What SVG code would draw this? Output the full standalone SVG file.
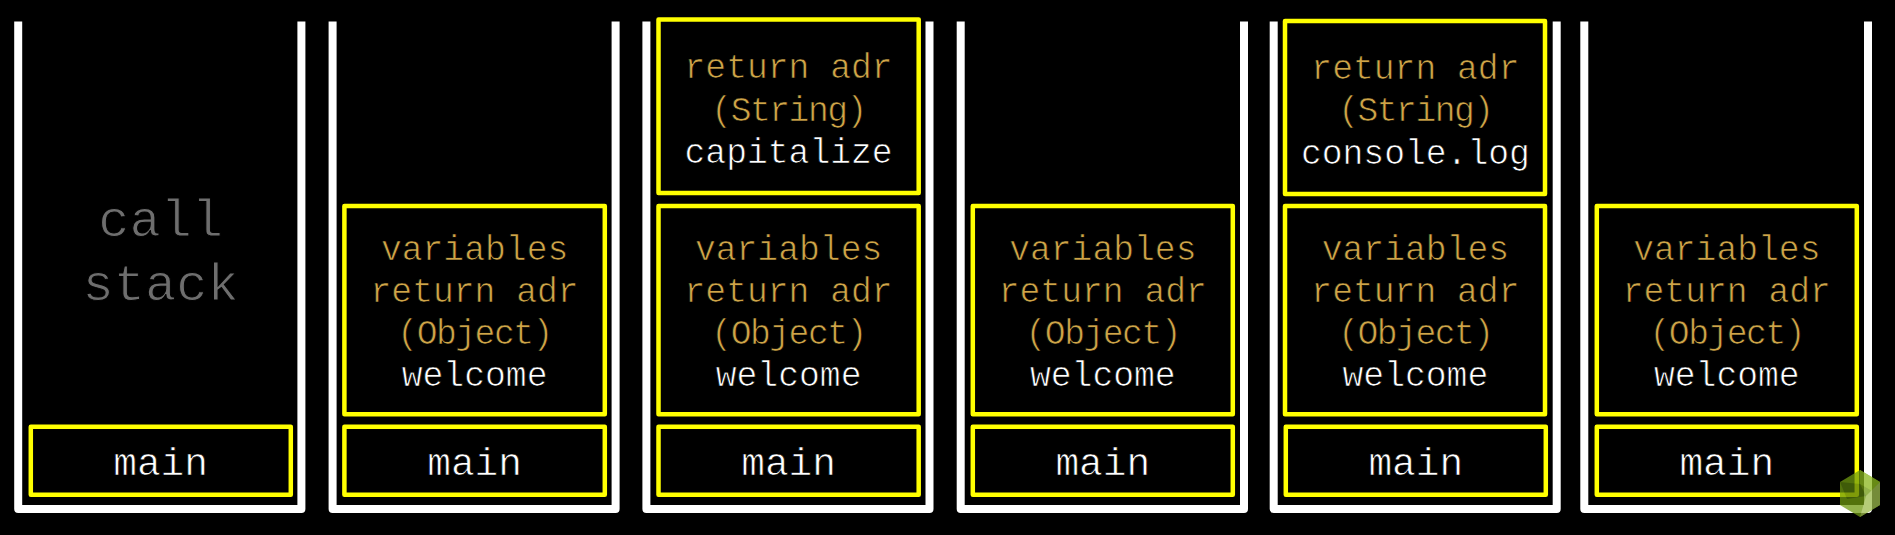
<svg xmlns="http://www.w3.org/2000/svg" width="1895" height="535" viewBox="0 0 1895 535">
<style>
.stack{fill:none;stroke:#fff;stroke-width:8;stroke-linejoin:round}
.frame{fill:#000;stroke:#ff0;stroke-width:4.5;stroke-linejoin:round}
text{font-family:"Liberation Mono","Courier New",monospace;text-anchor:middle;stroke:#000;stroke-width:.7px;paint-order:normal}
.g{font-size:34.7px;fill:#cfa548}
.p{letter-spacing:-1.5px}
.w{font-size:34.7px;fill:#fff}
.m{font-size:39.5px;fill:#fff}
.c{font-size:52px;fill:#6e6e6e;stroke-width:1px}
.f1{fill:#6f9a10}.f2{fill:#8ab81c}.f3{fill:#557a0c}.f4{fill:#9dbb4c}
</style>
<rect width="1895" height="535" fill="#000"/>
<g id="stack-1"><path class="stack" d="M18.2 21.5V509H301.4V21.5"/>
<g id="s1-main"><rect class="frame" x="30.8" y="426.7" width="260" height="68"/><text class="m" x="160.6" y="475.4">main</text></g>
<g id="s1-label"><text class="c" x="160.6" y="236">call</text><text class="c" x="160.6" y="300">stack</text></g></g>
<g id="stack-2"><path class="stack" d="M332.6 21.5V509H615.6V21.5"/>
<g id="s2-main"><rect class="frame" x="344.4" y="426.7" width="260.4" height="68"/><text class="m" x="474.6" y="475.4">main</text></g>
<g id="s2-welcome"><rect class="frame" x="344.4" y="206" width="260.4" height="208.2"/><text class="g" x="474.6" y="260.4">variables</text><text class="g" x="474.6" y="302">return adr</text><text class="g p" x="474.6" y="344">(Object)</text><text class="w" x="474.6" y="386">welcome</text></g></g>
<g id="stack-3"><path class="stack" d="M646.4 21.5V509H929.5V21.5"/>
<g id="s3-main"><rect class="frame" x="658.5" y="426.7" width="260.2" height="68"/><text class="m" x="788.6" y="475.4">main</text></g>
<g id="s3-welcome"><rect class="frame" x="658.5" y="206" width="260.2" height="208.2"/><text class="g" x="788.6" y="260.4">variables</text><text class="g" x="788.6" y="302">return adr</text><text class="g p" x="788.6" y="344">(Object)</text><text class="w" x="788.6" y="386">welcome</text></g>
<g id="s3-capitalize"><rect class="frame" x="658.5" y="19.6" width="260.2" height="173.4"/><text class="g" x="788.6" y="78">return adr</text><text class="g p" x="788.6" y="120.5">(String)</text><text class="w" x="788.6" y="162.5">capitalize</text></g></g>
<g id="stack-4"><path class="stack" d="M960.7 21.5V509H1244V21.5"/>
<g id="s4-main"><rect class="frame" x="972.8" y="426.7" width="260" height="68"/><text class="m" x="1102.8" y="475.4">main</text></g>
<g id="s4-welcome"><rect class="frame" x="972.8" y="206" width="260" height="208.2"/><text class="g" x="1102.8" y="260.4">variables</text><text class="g" x="1102.8" y="302">return adr</text><text class="g p" x="1102.8" y="344">(Object)</text><text class="w" x="1102.8" y="386">welcome</text></g></g>
<g id="stack-5"><path class="stack" d="M1273.7 21.5V509H1556.7V21.5"/>
<g id="s5-main"><rect class="frame" x="1285.8" y="426.7" width="260" height="68"/><text class="m" x="1415.8" y="475.4">main</text></g>
<g id="s5-welcome"><rect class="frame" x="1285" y="206" width="260" height="208.2"/><text class="g" x="1415.4" y="260.4">variables</text><text class="g" x="1415.4" y="302">return adr</text><text class="g p" x="1415.4" y="344">(Object)</text><text class="w" x="1415.4" y="386">welcome</text></g>
<g id="s5-console"><rect class="frame" x="1285" y="21" width="260" height="173"/><text class="g" x="1415.4" y="79">return adr</text><text class="g p" x="1415.4" y="121">(String)</text><text class="w" x="1415.4" y="163.5">console.log</text></g></g>
<g id="stack-6"><path class="stack" d="M1584.3 21.5V509H1868V21.5"/>
<g id="s6-main"><rect class="frame" x="1596.8" y="426.7" width="260" height="68"/><text class="m" x="1726.8" y="475.4">main</text></g>
<g id="s6-welcome"><rect class="frame" x="1596.8" y="206" width="260" height="208.2"/><text class="g" x="1726.8" y="260.4">variables</text><text class="g" x="1726.8" y="302">return adr</text><text class="g p" x="1726.8" y="344">(Object)</text><text class="w" x="1726.8" y="386">welcome</text></g></g>
<g id="watermark" opacity=".75">
<polygon class="f1" points="1860,470 1880,482 1880,505 1860,517 1840,505 1840,482"/>
<polygon class="f2" points="1860,470 1880,482 1872,491 1860,484"/>
<polygon class="f3" points="1840,482 1860,484 1866,496 1847,499"/>
<polygon class="f4" points="1866,496 1880,482 1880,505 1860,517"/>
</g>
</svg>
